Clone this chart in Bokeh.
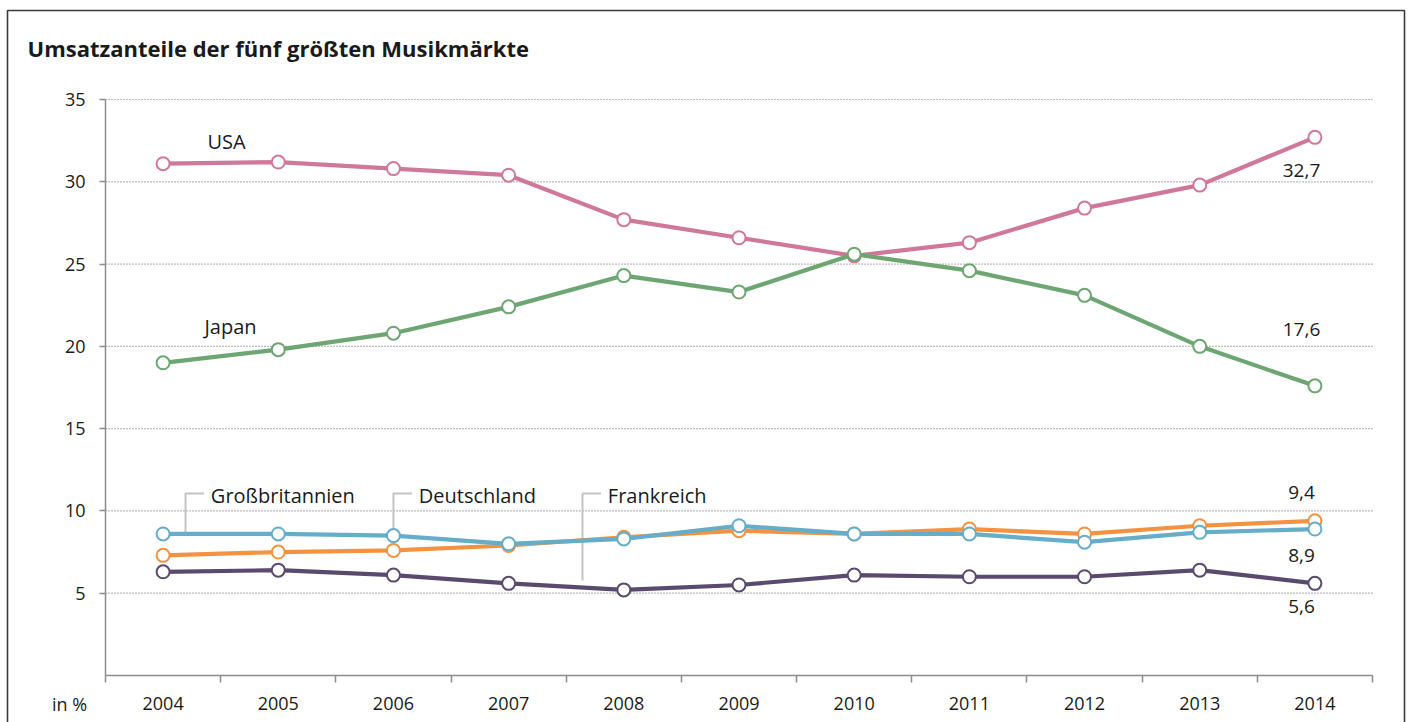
from bokeh.plotting import figure
from bokeh.models import Range1d, FixedTicker, Label
from bokeh.embed import file_html
from bokeh.resources import INLINE

# ---- data ----
years = [2004, 2005, 2006, 2007, 2008, 2009, 2010, 2011, 2012, 2013, 2014]
usa = [31.1, 31.2, 30.8, 30.4, 27.7, 26.6, 25.5, 26.3, 28.4, 29.8, 32.7]
japan = [19.0, 19.8, 20.8, 22.4, 24.3, 23.3, 25.6, 24.6, 23.1, 20.0, 17.6]
uk = [8.6, 8.6, 8.5, 8.0, 8.3, 9.1, 8.6, 8.6, 8.1, 8.7, 8.9]
germany = [7.3, 7.5, 7.6, 7.9, 8.4, 8.8, 8.6, 8.9, 8.6, 9.1, 9.4]
france = [6.3, 6.4, 6.1, 5.6, 5.2, 5.5, 6.1, 6.0, 6.0, 6.4, 5.6]
y_ticks = [5, 10, 15, 20, 25, 30, 35]

title_text = "Umsatzanteile der fünf größten Musikmärkte"
unit_text = "in %"

# series: name, values, colour (draw order)
series = [
    ("USA", usa, "#d0789a"),
    ("Japan", japan, "#6da672"),
    ("Frankreich", france, "#5a4a6e"),
    ("Deutschland", germany, "#f39342"),
    ("Großbritannien", uk, "#65adc9"),
]

# ---- layout (pixels of the 1411x722 canvas) ----
W, H = 1411, 722
AX_L, AX_R = 105, 1372      # x-axis extent in px
Y35, Y0 = 99, 675           # pixel rows of y=35 and y=0
X_LO, X_HI = years[0] - 0.5, years[-1] + 0.5
Y_LO, Y_HI = 0, 35
ppx = (AX_R - AX_L) / (X_HI - X_LO)
ppy = (Y0 - Y35) / (Y_HI - Y_LO)


def px2x(px):
    return X_LO + (px - AX_L) / ppx


def px2y(py):
    return Y_LO + (Y0 - py) / ppy


FONT = "Open Sans"
TXT = "#1a1a1a"
AXC = "#8c8c8c"

p = figure(width=W, height=H, output_backend="svg", toolbar_location=None,
           x_range=Range1d(px2x(0), px2x(W)), y_range=Range1d(px2y(H), px2y(0)),
           min_border=0)
p.min_border_left = p.min_border_right = p.min_border_top = p.min_border_bottom = 0
p.outline_line_color = None
p.background_fill_color = "white"
p.border_fill_color = "white"

# outer frame of the graphic
p.line([px2x(7), px2x(7), px2x(1404), px2x(1404)], [px2y(H + 5), px2y(10), px2y(10), px2y(H + 5)],
       line_color="#3a3a3a", line_width=1.6)

# dotted horizontal grid, limited to the plot area
p.xgrid.grid_line_color = None
p.ygrid.grid_line_color = None
p.segment(x0=[X_LO] * len(y_ticks), y0=y_ticks, x1=[X_HI] * len(y_ticks), y1=y_ticks,
          line_color="#7a7a7a", line_dash="1 2", line_width=1.2)

# axes
xt = FixedTicker(ticks=years, minor_ticks=[y - 0.5 for y in years] + [years[-1] + 0.5])
xa = p.xaxis[0]
xa.fixed_location = Y_LO
xa.bounds = (X_LO, X_HI)
xa.ticker = xt
xa.major_tick_line_color = None
xa.major_tick_in = 0
xa.major_tick_out = 0
xa.minor_tick_in = 0
xa.minor_tick_out = 7
xa.minor_tick_line_color = AXC
xa.minor_tick_line_width = 1.5
xa.axis_line_color = AXC
xa.axis_line_width = 1.5
xa.major_label_standoff = 14
xa.major_label_text_font = FONT
xa.major_label_text_font_size = "18px"
xa.major_label_text_color = TXT

yt = FixedTicker(ticks=y_ticks, minor_ticks=[])
ya = p.yaxis[0]
ya.fixed_location = X_LO
ya.bounds = (Y_LO, Y_HI)
ya.ticker = yt
ya.major_tick_in = 0
ya.major_tick_out = 6
ya.major_tick_line_color = AXC
ya.major_tick_line_width = 1.5
ya.minor_tick_line_color = None
ya.axis_line_color = AXC
ya.axis_line_width = 1.5
ya.major_label_standoff = 14
ya.major_label_text_font = FONT
ya.major_label_text_font_size = "18px"
ya.major_label_text_color = TXT

NAME = "20px"
VAL = "19px"

# callout leader lines: (name, year position, value where the leader starts)
callouts = [
    ("Großbritannien", px2x(185), uk[0]),
    ("Deutschland", years[2], 7.72),
    ("Frankreich", px2x(582), 5.77),
]
callout_top = px2y(493)
for name, cx, cy in callouts:
    p.line([cx, cx, cx + 0.16], [cy, callout_top, callout_top], line_color="#c4c4c4", line_width=2)
    p.add_layout(Label(x=cx + 0.22, y=px2y(495), text=name, text_font=FONT, text_font_size=NAME,
                       text_color=TXT, text_baseline="middle", text_align="left"))

# series
for name, vals, col in series:
    p.line(years, vals, line_color=col, line_width=4.2)
    p.scatter(years, vals, size=13, fill_color="white", line_color=col, line_width=2)

# direct labels
p.add_layout(Label(x=px2x(226), y=px2y(141), text="USA", text_font=FONT, text_font_size=NAME,
                   text_color=TXT, text_baseline="middle", text_align="center"))
p.add_layout(Label(x=px2x(230), y=px2y(326), text="Japan", text_font=FONT, text_font_size=NAME,
                   text_color=TXT, text_baseline="middle", text_align="center"))


def fmt(v):
    return f"{v:.1f}".replace(".", ",")


end_labels = [(usa[-1], 170), (japan[-1], 329), (germany[-1], 492), (uk[-1], 555), (france[-1], 606)]
for v, py in end_labels:
    p.add_layout(Label(x=px2x(1301), y=px2y(py), text=fmt(v), text_font=FONT, text_font_size=VAL,
                       text_color=TXT, text_baseline="middle", text_align="center"))

# title and unit
p.add_layout(Label(x=px2x(27), y=px2y(47), text=title_text, text_font=FONT, text_font_size="22px",
                   text_font_style="bold", text_color=TXT, text_baseline="middle", text_align="left"))
p.add_layout(Label(x=px2x(69), y=px2y(703), text=unit_text, text_font=FONT, text_font_size="18px",
                   text_color=TXT, text_baseline="middle", text_align="center"))

open("out.html", "w").write(file_html(p, INLINE))
